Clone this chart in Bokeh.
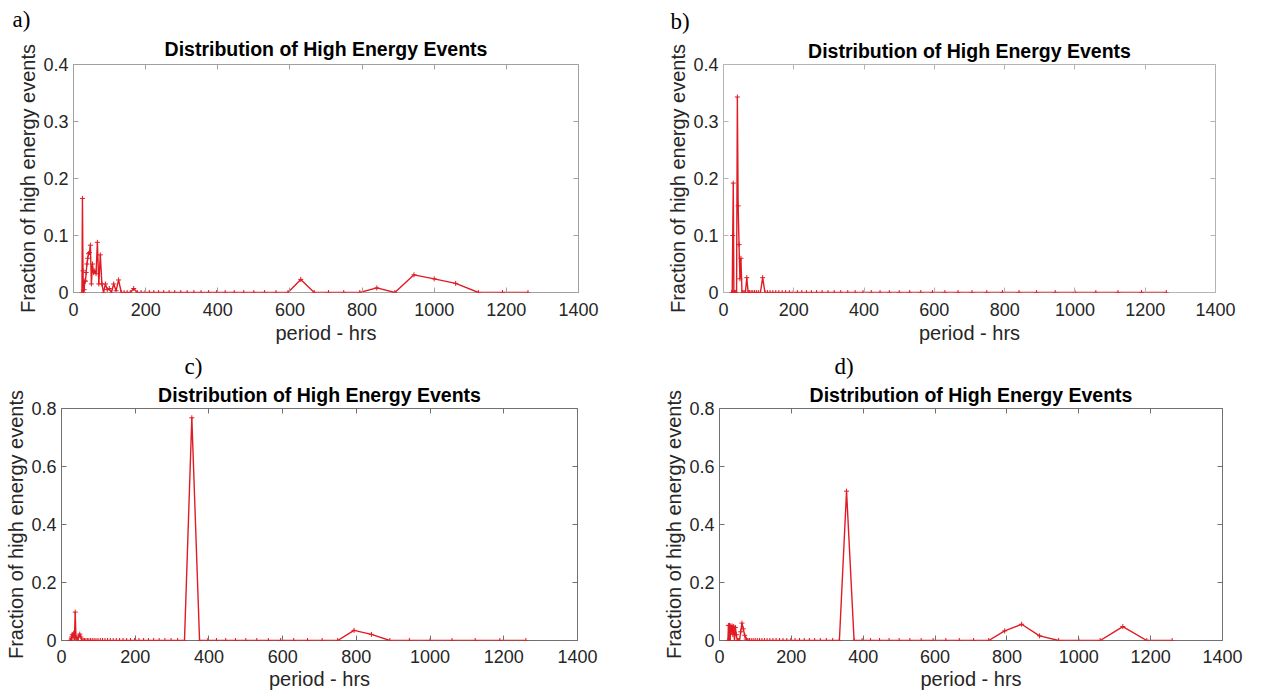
from bokeh.plotting import figure
from bokeh.models import Range1d, LinearAxis, FixedTicker, NumeralTickFormatter, Title, CustomJSTickFormatter
from bokeh.layouts import column, row
from bokeh.embed import file_html
from bokeh.resources import INLINE

# ---------------- data ----------------
PERIOD = [23.4, 24.8, 26.3, 27.8, 29.5, 31.3, 33.1, 35.1, 37.2, 39.4,
          41.7, 44.2, 46.8, 49.6, 52.6, 55.7, 59.0, 62.5, 66.2, 70.2,
          74.3, 78.7, 83.4, 88.4, 93.6, 99.2, 105.1, 111.4, 118.0, 125.0,
          132.4, 140.3, 148.7, 157.5, 166.9, 176.8, 187.3, 198.4, 210.2, 222.7,
          236.0, 250.0, 264.9, 280.6, 297.3, 315.0, 333.7, 353.6, 374.6, 396.9,
          420.4, 445.5, 471.9, 500.0, 529.8, 561.3, 594.6, 630.0, 667.4, 707.1,
          749.2, 793.7, 840.9, 890.9, 943.9, 1000.0, 1059.5, 1122.5, 1189.3, 1260.0]

FRAC_A = [0.0, 0.165, 0.038, 0.0, 0.005, 0.02, 0.02, 0.035, 0.05, 0.06,
          0.068, 0.07, 0.083, 0.015, 0.05, 0.035, 0.038, 0.033, 0.088, 0.015,
          0.066, 0.015, 0.0, 0.015, 0.005, 0.007, 0.0, 0.015, 0.003, 0.022,
          0.0, 0.0, 0.0, 0.0, 0.007, 0.0, 0.0, 0.0, 0.0, 0.0,
          0.0, 0.0, 0.0, 0.0, 0.0, 0.0, 0.0, 0.0, 0.0, 0.0,
          0.0, 0.0, 0.0, 0.0, 0.0, 0.0, 0.0, 0.023, 0.0, 0.0,
          0.0, 0.0, 0.008, 0.0, 0.031, 0.024, 0.016, 0.0, 0.0, 0.0]

FRAC_B = [0.0, 0.0, 0.1, 0.192, 0.0, 0.0, 0.0, 0.0, 0.0, 0.343,
          0.152, 0.084, 0.024, 0.06, 0.0, 0.0, 0.0, 0.0, 0.026, 0.0,
          0.0, 0.0, 0.0, 0.0, 0.0, 0.0, 0.0, 0.026, 0.0, 0.0,
          0.0, 0.0, 0.0, 0.0, 0.0, 0.0, 0.0, 0.0, 0.0, 0.0,
          0.0, 0.0, 0.0, 0.0, 0.0, 0.0, 0.0, 0.0, 0.0, 0.0,
          0.0, 0.0, 0.0, 0.0, 0.0, 0.0, 0.0, 0.0, 0.0, 0.0,
          0.0, 0.0, 0.0, 0.0, 0.0, 0.0, 0.0, 0.0, 0.0, 0.0]

FRAC_C = [0.0, 0.0, 0.005, 0.012, 0.02, 0.015, 0.025, 0.01, 0.098, 0.005,
          0.01, 0.0, 0.015, 0.022, 0.012, 0.0, 0.0, 0.0, 0.0, 0.0,
          0.0, 0.0, 0.0, 0.0, 0.0, 0.0, 0.0, 0.0, 0.0, 0.0,
          0.0, 0.0, 0.0, 0.0, 0.0, 0.0, 0.0, 0.0, 0.0, 0.0,
          0.0, 0.0, 0.0, 0.0, 0.0, 0.0, 0.0, 0.768, 0.0, 0.0,
          0.0, 0.0, 0.0, 0.0, 0.0, 0.0, 0.0, 0.0, 0.0, 0.0,
          0.0, 0.035, 0.021, 0.0, 0.0, 0.0, 0.0, 0.0, 0.0, 0.0]

FRAC_D = [0.0, 0.052, 0.0, 0.052, 0.0, 0.05, 0.03, 0.05, 0.02, 0.048,
          0.0, 0.045, 0.02, 0.0, 0.0, 0.0, 0.03, 0.06, 0.04, 0.018,
          0.005, 0.0, 0.0, 0.0, 0.0, 0.0, 0.0, 0.0, 0.0, 0.0,
          0.0, 0.0, 0.0, 0.0, 0.0, 0.0, 0.0, 0.0, 0.0, 0.0,
          0.0, 0.0, 0.0, 0.0, 0.0, 0.0, 0.0, 0.515, 0.0, 0.0,
          0.0, 0.0, 0.0, 0.0, 0.0, 0.0, 0.0, 0.0, 0.0, 0.0,
          0.0, 0.033, 0.056, 0.016, 0.0, 0.0, 0.0, 0.048, 0.0, 0.0]

X_TICKS = [0, 200, 400, 600, 800, 1000, 1200, 1400]
Y_TICKS_AB = [0, 0.1, 0.2, 0.3, 0.4]
Y_TICKS_CD = [0, 0.2, 0.4, 0.6, 0.8]
PANEL_LABELS = ["a)", "b)", "c)", "d)"]
TITLE = "Distribution of High Energy Events"
X_LABEL = "period - hrs"
Y_LABEL = "Fraction of high energy events"

RED = "#e01b24"
TXT = "#262626"


def make_panel(frac, ymax, yticks, label, width, height, mb, label_offset,
               title_standoff, label_standoff, tick_standoff, xlabel_standoff,
               frame_color):
    p = figure(width=width, height=height, output_backend="svg", toolbar_location=None,
               x_range=Range1d(0, 1400), y_range=Range1d(0, ymax), title=None,
               min_border_left=mb[0], min_border_right=mb[1],
               min_border_top=mb[2], min_border_bottom=mb[3])
    p.grid.visible = False
    p.outline_line_color = frame_color
    p.outline_line_width = 1
    p.background_fill_color = "white"
    p.border_fill_color = "white"

    p.xaxis.ticker = FixedTicker(ticks=X_TICKS)
    p.yaxis.ticker = FixedTicker(ticks=yticks)
    p.yaxis.formatter = NumeralTickFormatter(format="0.[0]")
    for ax in (p.xaxis, p.yaxis):
        ax.major_tick_in = 5
        ax.major_tick_out = 0
        ax.major_tick_line_color = frame_color
        ax.minor_tick_line_color = None
        ax.axis_line_color = None
        ax.major_label_text_font = "Liberation Sans"
        ax.major_label_text_font_size = "18px"
        ax.major_label_text_color = TXT
        ax.axis_label_text_font = "Liberation Sans"
        ax.axis_label_text_font_size = "20px"
        ax.axis_label_text_font_style = "normal"
        ax.axis_label_text_color = TXT
    p.xaxis.axis_label = X_LABEL
    p.yaxis.axis_label = Y_LABEL
    p.xaxis.major_label_standoff = tick_standoff
    p.xaxis.axis_label_standoff = xlabel_standoff
    p.yaxis.major_label_standoff = 5
    p.yaxis.axis_label_standoff = 1

    blank = CustomJSTickFormatter(code="return ''")
    top = LinearAxis(ticker=FixedTicker(ticks=X_TICKS), formatter=blank,
                     major_tick_in=5, major_tick_out=0, major_label_standoff=0,
                     major_label_text_font_size="1px",
                     major_tick_line_color=frame_color,
                     minor_tick_line_color=None, axis_line_color=None)
    right = LinearAxis(ticker=FixedTicker(ticks=yticks), formatter=blank,
                       major_tick_in=5, major_tick_out=0, major_label_standoff=0,
                       major_label_text_font_size="1px",
                       major_tick_line_color=frame_color,
                       minor_tick_line_color=None, axis_line_color=None)
    p.add_layout(top, "above")
    p.add_layout(right, "right")

    p.add_layout(Title(text=TITLE, align="center", text_font="Liberation Sans",
                       text_font_size="19.5px", text_font_style="bold",
                       text_color="#000000", standoff=title_standoff), "above")
    p.add_layout(Title(text=label, align="left", offset=label_offset,
                       text_font="Liberation Serif", text_font_size="23px",
                       text_font_style="normal", text_color="#000000",
                       standoff=label_standoff), "above")

    p.line(PERIOD, frac, line_color=RED, line_width=1.4)
    p.scatter(PERIOD, frac, marker="cross", size=5, line_color=RED, line_width=1)
    return p


pa = make_panel(FRAC_A, 0.4, Y_TICKS_AB, PANEL_LABELS[0], 630, 349, (73, 52, 64, 57), -61,
                9, 0, 10, 3, "#a0a0a0")
pb = make_panel(FRAC_B, 0.4, Y_TICKS_AB, PANEL_LABELS[1], 632, 349, (93, 47, 64, 57), -53,
                5, 3, 10, 3, "#b4b4b4")
pc = make_panel(FRAC_C, 0.8, Y_TICKS_CD, PANEL_LABELS[2], 630, 346, (61, 53, 59, 55), 123,
                6, 0, 9, 2, "#707070")
pd = make_panel(FRAC_D, 0.8, Y_TICKS_CD, PANEL_LABELS[3], 632, 346, (89, 40, 59, 55), 115,
                6, 0, 9, 2, "#707070")

layout = column(row(pa, pb), row(pc, pd))

open("out.html", "w").write(file_html(layout, INLINE))
